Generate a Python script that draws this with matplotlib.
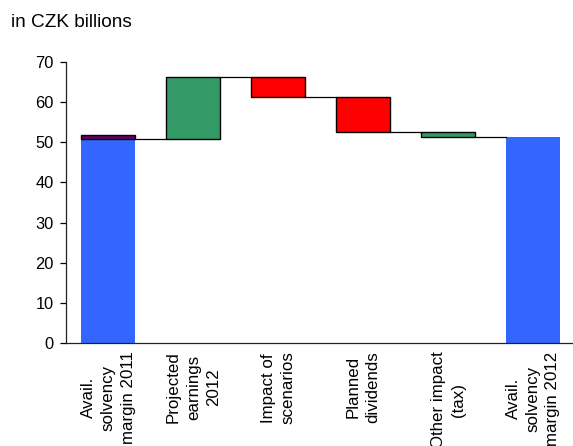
import matplotlib
matplotlib.use("Agg")
import matplotlib.pyplot as plt

plt.rcParams['font.family'] = ['Liberation Sans', 'DejaVu Sans']

# Waterfall of the available solvency margin (CZK billions)
categories = ["Avail.\nsolvency\nmargin 2011", "Projected\nearnings\n2012",
              "Impact of\nscenarios", "Planned\ndividends",
              "Other impact\n(tax)", "Avail.\nsolvency\nmargin 2012"]
start_total = 50.8          # opening margin
start_extra = 1.0           # top layer on the opening bar
changes = [15.5, -5.0, -8.7, -1.2]
change_colors = ["#339966", "#FF0000", "#FF0000", "#339966"]
end_total = 51.4
y_ticks = [0, 10, 20, 30, 40, 50, 60, 70]

fig = plt.figure(figsize=(5.73, 4.46), dpi=100)
ax = fig.add_axes([66 / 573, 103 / 446, 509.5 / 573, 281 / 446])

width = 0.635
x = list(range(len(categories)))

# opening bar
ax.bar(x[0], start_total, width, color="#3366FF", linewidth=0)
ax.bar(x[0], start_extra, width, bottom=start_total, color="#660066",
       edgecolor="black", linewidth=1)

# floating change bars and connectors
level = start_total
for i, (d, c) in enumerate(zip(changes, change_colors), start=1):
    lo, hi = min(level, level + d), max(level, level + d)
    ax.plot([x[i - 1] + width / 2, x[i] - width / 2], [level, level],
            color="black", linewidth=0.9)
    ax.bar(x[i], hi - lo, width, bottom=lo, color=c, edgecolor="black",
           linewidth=1)
    level += d

ax.plot([x[-2] + width / 2, x[-1] - width / 2], [level, level],
        color="black", linewidth=0.9)
ax.bar(x[-1], end_total, width, color="#3366FF", linewidth=0)

ax.set_xlim(-0.5, 5.5)
ax.set_ylim(0, 70)
ax.set_yticks(y_ticks)
ax.tick_params(axis='y', labelsize=11.8, length=4, width=0.9, pad=5,
               direction='out')
ax.set_xticks(x)
ax.set_xticklabels(categories, rotation=90, fontsize=12.2, linespacing=1.4,
                   multialignment='center', va='top', ha='center')
ax.tick_params(axis='x', length=0, pad=6)
for s in ("top", "right"):
    ax.spines[s].set_visible(False)
for s in ("left", "bottom"):
    ax.spines[s].set_linewidth(0.9)
    ax.spines[s].set_color("#222222")

fig.text(11 / 573, (446 - 27) / 446, "in CZK billions", fontsize=13.7,
         va='baseline', ha='left')

fig.savefig("out.png", dpi=100)
